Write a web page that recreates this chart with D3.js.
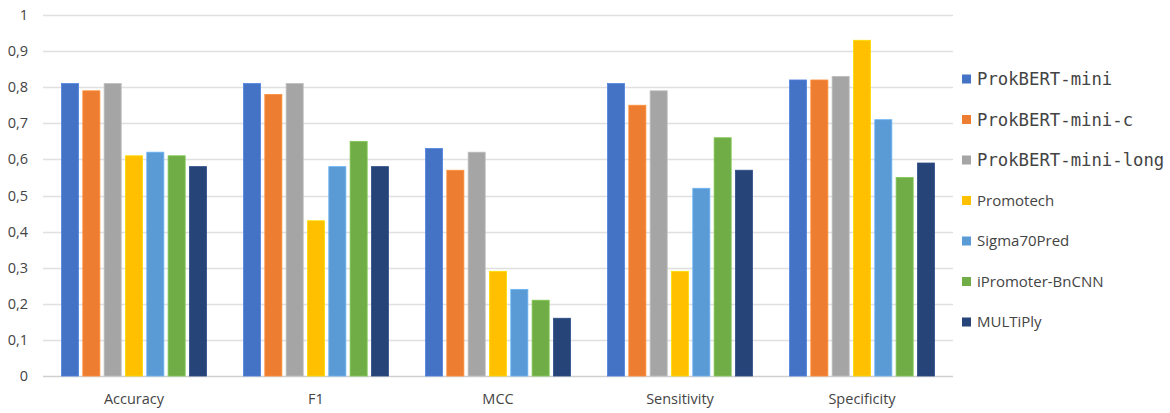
<!DOCTYPE html>
<html><head><meta charset="utf-8">
<script src="https://cdn.jsdelivr.net/npm/d3@7"></script>
<style>
html,body{margin:0;padding:0;background:#fff;}
svg{display:block;}
</style></head>
<body>
<svg id="chart" width="1170" height="413"></svg>
<script>
const categories = ["Accuracy", "F1", "MCC", "Sensitivity", "Specificity"];
const seriesNames = ["ProkBERT-mini", "ProkBERT-mini-c", "ProkBERT-mini-long", "Promotech", "Sigma70Pred", "iPromoter-BnCNN", "MULTiPly"];
const monoSeries = ["ProkBERT-mini", "ProkBERT-mini-c", "ProkBERT-mini-long"];
const colors = ["#4472C4", "#ED7D31", "#A5A5A5", "#FFC000", "#5B9BD5", "#70AD47", "#264478"];
const prokbertMini     = [0.81, 0.81, 0.63, 0.81, 0.82];
const prokbertMiniC    = [0.79, 0.78, 0.57, 0.75, 0.82];
const prokbertMiniLong = [0.81, 0.81, 0.62, 0.79, 0.83];
const promotech        = [0.61, 0.43, 0.29, 0.29, 0.93];
const sigma70Pred      = [0.62, 0.58, 0.24, 0.52, 0.71];
const iPromoterBnCNN   = [0.61, 0.65, 0.21, 0.66, 0.55];
const multiPly         = [0.58, 0.58, 0.16, 0.57, 0.59];
const yTicks = [0, 0.1, 0.2, 0.3, 0.4, 0.5, 0.6, 0.7, 0.8, 0.9, 1];

const seriesValues = [prokbertMini, prokbertMiniC, prokbertMiniLong, promotech, sigma70Pred, iPromoterBnCNN, multiPly];

const svg = d3.select("#chart");
const plotLeft = 43, plotRight = 953, plotTop = 15, plotBottom = 376;
const textColor = "#444444";
const font = "'Open Sans', 'Liberation Sans', sans-serif";

const y = d3.scaleLinear().domain([0, 1]).range([plotBottom, plotTop]);
const x0 = d3.scaleBand().domain(categories).range([plotLeft, plotRight]).padding(0);
const groupPad = 18.5;
const x1 = d3.scaleBand().domain(seriesNames).range([groupPad, x0.bandwidth() - groupPad]).paddingInner(0.2).paddingOuter(0);
const color = d3.scaleOrdinal().domain(seriesNames).range(colors);

// gridlines
svg.append("g").selectAll("line").data(yTicks).join("line")
  .attr("x1", plotLeft).attr("x2", plotRight)
  .attr("y1", d => Math.round(y(d)) + 0.5).attr("y2", d => Math.round(y(d)) + 0.5)
  .attr("stroke", d => d === 0 ? "#d0d0d0" : "#e0e0e0").attr("stroke-width", 1.3);

// y tick labels
const fmt = d => d3.format(".1~f")(d).replace(".", ",");
svg.append("g").selectAll("text").data(yTicks).join("text")
  .attr("x", 28).attr("y", d => y(d)).attr("dy", "0.35em")
  .attr("text-anchor", "end").attr("font-family", font).attr("font-size", 14.5)
  .attr("fill", textColor).text(fmt);

// bars
const groups = svg.append("g").selectAll("g").data(categories).join("g")
  .attr("transform", c => `translate(${x0(c)},0)`);
groups.selectAll("rect").data((c, ci) => seriesNames.map((s, si) => ({s, v: seriesValues[si][ci]})))
  .join("rect")
  .attr("x", d => x1(d.s)).attr("width", x1.bandwidth())
  .attr("y", d => y(d.v)).attr("height", d => plotBottom - y(d.v))
  .attr("fill", d => color(d.s))
  .attr("stroke", d => d3.color(color(d.s)).brighter(0.4)).attr("stroke-width", 0.8);

// x labels
svg.append("g").selectAll("text").data(categories).join("text")
  .attr("x", c => x0(c) + x0.bandwidth() / 2).attr("y", 399).attr("dy", "0.35em")
  .attr("text-anchor", "middle").attr("font-family", font).attr("font-size", 14.5)
  .attr("fill", textColor).text(c => c);

// legend
const legendY = d3.scalePoint().domain(seriesNames).range([79, 322]);
const lg = svg.append("g").selectAll("g").data(seriesNames).join("g")
  .attr("transform", s => `translate(962,${legendY(s)})`);
lg.append("rect").attr("x", 0).attr("y", -4.5).attr("width", 9).attr("height", 9)
  .attr("fill", s => color(s));
lg.append("text").attr("x", 15).attr("y", 0).attr("dy", "0.35em")
  .attr("font-family", s => monoSeries.includes(s) ? "'DejaVu Sans Mono', monospace" : font)
  .attr("font-size", s => monoSeries.includes(s) ? 17.3 : 15)
  .attr("fill", textColor)
  .text(s => s);
</script>
</body></html>
